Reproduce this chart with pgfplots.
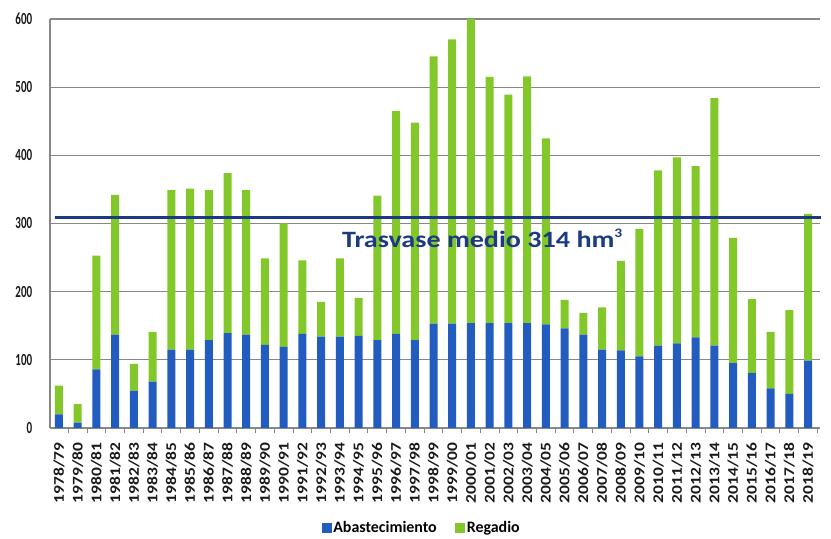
\documentclass[border=0pt]{standalone}
\usepackage{pgfplots}
\pgfplotsset{compat=1.18}
\usepackage{pgfplotstable}
\usepackage{fontspec}
\setmainfont{Carlito}
\definecolor{abas}{RGB}{33,92,190}
\definecolor{rega}{RGB}{130,200,42}
\definecolor{navy}{RGB}{28,58,130}
\definecolor{gridc}{RGB}{135,135,135}
\newcommand{\Lb}[1]{\scalebox{1}[0.85]{#1}}

\pgfplotstableread{
x a r
0 20 42
1 8 27
2 86 167
3 137 205
4 55 39
5 68 73
6 115 234
7 115 236
8 129 220
9 139 235
10 137 212
11 122 127
12 119 181
13 138 108
14 134 51
15 134 115
16 135 56
17 129 212
18 138 327
19 129 319
20 153 392
21 153 417
22 154 446
23 154 361
24 154 335
25 154 362
26 152 273
27 146 42
28 137 32
29 115 62
30 114 131
31 105 187
32 121 257
33 124 273
34 133 251
35 121 363
36 95 184
37 81 108
38 58 83
39 50 123
40 99 215
}\data

\pgfplotstableread{
x y
-0.22 309
40.70 309
}\avg

\begin{document}
\begin{tikzpicture}
\path[use as bounding box] (0,0) rectangle (831bp,539bp);
\begin{axis}[
  at={(50bp,111bp)}, anchor=south west,
  scale only axis, width=770bp, height=409bp,
  xmin=-0.48, xmax=40.64, ymin=0, ymax=600,
  ybar stacked, bar width=8bp,
  axis x line*=bottom, axis y line*=left,
  axis line style={gridc, line width=1.6bp},
  ytick={0,100,...,600},
  ymajorgrids, grid style={gridc, line width=1.2bp},
  ytick style={draw=none},
  /pgf/number format/assume math mode=true,
  yticklabel={\scalebox{0.65}[1]{\pgfmathprintnumber{\tick}}},
  yticklabel style={xshift=-10bp, font=\bfseries\fontsize{17}{17}\selectfont, text=black!90},
  xtick={0,...,40},
  xticklabels={\Lb{1978/79},\Lb{1979/80},\Lb{1980/81},\Lb{1981/82},\Lb{1982/83},\Lb{1983/84},\Lb{1984/85},\Lb{1985/86},\Lb{1986/87},\Lb{1987/88},\Lb{1988/89},\Lb{1989/90},\Lb{1990/91},\Lb{1991/92},\Lb{1992/93},\Lb{1993/94},\Lb{1994/95},\Lb{1995/96},\Lb{1996/97},\Lb{1997/98},\Lb{1998/99},\Lb{1999/00},\Lb{2000/01},\Lb{2001/02},\Lb{2002/03},\Lb{2003/04},\Lb{2004/05},\Lb{2005/06},\Lb{2006/07},\Lb{2007/08},\Lb{2008/09},\Lb{2009/10},\Lb{2010/11},\Lb{2011/12},\Lb{2012/13},\Lb{2013/14},\Lb{2014/15},\Lb{2015/16},\Lb{2016/17},\Lb{2017/18},\Lb{2018/19}},
  xticklabel style={yshift=-7bp, rotate=90, anchor=east, font=\bfseries\fontsize{17.5}{17.5}\selectfont, text=black!90},
  major x tick style={draw=none},
  minor xtick={-0.5,0.5,...,40.5},
  minor x tick style={gridc, line width=1bp},
  minor tick length=5bp, tick align=outside,
  legend style={at={(0.4825,-0.2435)}, anchor=center, draw=none, fill=none,
    legend columns=2, font=\bfseries\fontsize{16}{16}\selectfont,
    /tikz/every even column/.append style={column sep=17bp},
    nodes={inner xsep=1.5bp, inner ysep=1bp}},
  legend image code/.code={\fill[#1] (0bp,-5bp) rectangle (10bp,5bp);},
]
\addplot[fill=abas, draw=none] table[x=x, y=a] {\data};
\addlegendentry{Abastecimiento}
\addplot[fill=rega, draw=none] table[x=x, y=r] {\data};
\addlegendentry{Regadio}
\end{axis}
\begin{axis}[
  at={(50bp,111bp)}, anchor=south west,
  scale only axis, width=770bp, height=409bp,
  xmin=-0.48, xmax=40.64, ymin=0, ymax=600,
  hide axis, clip=false,
]
\addplot[navy, line width=3bp, no markers] table[x=x, y=y] {\avg};
\node[anchor=base, text=navy, font=\bfseries\fontsize{23.5}{23.5}\selectfont]
  at (axis cs:22.6,265.5) {\scalebox{1.2}[1]{Trasvase medio 314 hm\raisebox{0.42em}{\fontsize{13}{13}\selectfont 3}}};
\end{axis}
\end{tikzpicture}
\end{document}
